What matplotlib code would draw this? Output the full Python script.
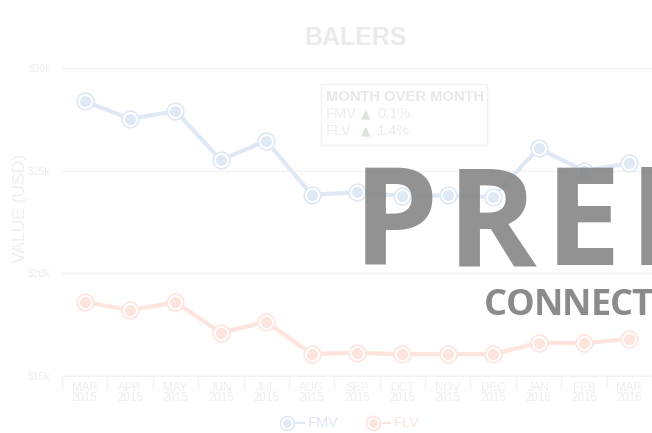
import numpy as np
import matplotlib.pyplot as plt

months = ["MAR\n2015", "APR\n2015", "MAY\n2015", "JUN\n2015", "JUL\n2015", "AUG\n2015",
          "SEP\n2015", "OCT\n2015", "NOV\n2015", "DEC\n2015", "JAN\n2016", "FEB\n2016", "MAR\n2016"]
fmv = [28390, 27520, 27900, 25520, 26450, 23820, 23950, 23770, 23800, 23730, 26090, 25000, 25360]
flv = [18600, 18210, 18590, 17110, 17640, 16070, 16130, 16060, 16070, 16060, 16620, 16600, 16800]
yticks = [15000, 20000, 25000, 30000]
ytick_labels = ["$15k", "$20k", "$25k", "$30k"]

fmv_color = "#dfe9f6"
flv_color = "#fde4dc"
faint = "#eeeeee"

plt.rcParams['font.family'] = ['Liberation Sans', 'DejaVu Sans']

fig = plt.figure(figsize=(6.52, 4.33), dpi=100)
ax = fig.add_axes([62/652, 1-376/433, 1-62/652, (376-68)/433])

x = np.arange(len(months))
for vals, col in [(fmv, fmv_color), (flv, flv_color)]:
    ax.plot(x, vals, color=col, lw=3, zorder=3)
    ax.plot(x, vals, 'o', ms=12, mfc='white', mec=col, mew=1.2, zorder=4, ls='none')
    ax.plot(x, vals, 'o', ms=8, mfc=col, mec='none', zorder=5, ls='none')

ax.set_xlim(-0.5, 12.5)
ax.set_ylim(15000, 30000)
ax.set_yticks(yticks)
ax.set_yticklabels(ytick_labels, color=faint, fontsize=7.5)
ax.set_xticks(x)
ax.set_xticklabels(months, color=faint, fontsize=8.3, linespacing=0.85)
ax.set_xticks(np.arange(-0.5, 13, 1), minor=True)
ax.tick_params(axis='x', which='major', length=0, pad=4)
ax.tick_params(axis='x', which='minor', length=9, color="#f2f2f2", width=1)
ax.tick_params(axis='y', length=0, pad=8)
ax.grid(axis='y', color="#f4f4f4", lw=1)
ax.set_axisbelow(True)
for s in ["top", "right", "left"]:
    ax.spines[s].set_visible(False)
ax.spines["bottom"].set_color("#f2f2f2")

ax.set_ylabel("VALUE (USD)", color=faint, fontsize=12.5)
ax.yaxis.set_label_coords(-0.058, 0.545)

fig.text(356/652, 1-38/433, "BALERS", ha='center', va='center', fontsize=18,
         fontweight='bold', color="#eaeaea")

# month over month box
ax.add_patch(plt.Rectangle((321/652, 1-145/433), 166/652, 61/433, transform=fig.transFigure,
                           fill=False, ec="#f2f2f2", lw=1, zorder=6))
fig.text(326/652, 1-97/433, "MONTH OVER MONTH", fontsize=10.6, fontweight='bold',
         color="#e8e8e8", va='center')
for yy, name, pct in [(114, "FMV", "0.1%"), (131, "FLV", "1.4%")]:
    fig.text(326/652, 1-yy/433, name, fontsize=10.5, color="#ececec", va='center')
    fig.text(361/652, 1-yy/433, "\u25b2", fontsize=9, color="#dce6d8", va='center',
             family='DejaVu Sans')
    fig.text(377/652, 1-yy/433, pct, fontsize=10.5, color="#ececec", va='center')

# legend
for lx, name, col in [(287, "FMV", fmv_color), (373, "FLV", flv_color)]:
    fig.add_artist(plt.Line2D([lx/652, (lx+17)/652], [1-423/433]*2, color=col, lw=1.5))
    fig.add_artist(plt.Line2D([lx/652], [1-423/433], marker='o', ms=10, mfc='white', mec=col, mew=1.2))
    fig.add_artist(plt.Line2D([lx/652], [1-423/433], marker='o', ms=6, mfc=col, mec='none'))
    fig.text((lx+21)/652, 1-423/433, name, fontsize=10.5, color=col, va='center')

# watermark, drawn letter by letter to get the wide tracking
renderer = fig.canvas.get_renderer()
def spaced(text, x0, y0, size, track, alpha):
    xp = x0
    for ch in text:
        t = fig.text(xp/652, 1-y0/433, ch, fontsize=size, fontweight='bold', family='Open Sans',
                     color="#7f7f7f", alpha=alpha, va='baseline', zorder=10)
        w = t.get_window_extent(renderer).width
        xp += w + track

spaced("PREMIUM", 353, 265, 98, 8, 0.85)
spaced("CONNECTED", 484, 315, 26, -1, 0.9)

fig.savefig("out.png", dpi=100)
